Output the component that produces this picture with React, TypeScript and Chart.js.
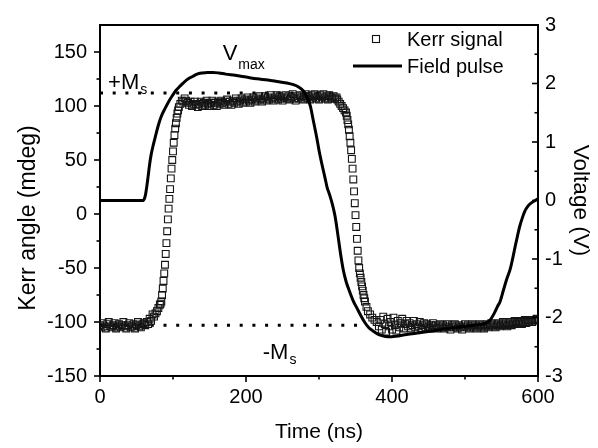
import React, { useEffect, useRef } from 'react';
import { Chart, registerables } from 'chart.js';

Chart.register(...registerables);

// ---------------- data ----------------
const kerrTime = [
  0, 2, 4, 6, 8, 10, 12, 14, 16, 18, 20, 22, 24, 26, 28, 30, 32, 34, 36, 38, 40, 42, 44, 46, 48, 50, 52, 54, 56, 58, 60, 62,
  64, 66, 68, 70, 72, 74, 76, 78, 80, 82, 83,
  84, 85, 86, 87, 88, 89, 90, 91, 92, 93, 94, 95, 96, 97, 98, 99, 100, 101, 102, 103, 104, 105, 106, 107, 108, 110, 112, 114, 116,
  118, 120, 122, 124, 126, 128, 130, 132, 134, 136,
  138, 140, 142, 144, 146, 148, 150, 152, 154, 156,
  158, 160, 162, 164, 166, 168, 170, 172, 174, 176,
  178, 180, 182, 184, 186, 188, 190, 192, 194, 196,
  198, 200, 202, 204, 206, 208, 210, 212, 214, 216,
  218, 220, 222, 224, 226, 228, 230, 232, 234, 236,
  238, 240, 242, 244, 246, 248, 250, 252, 254, 256,
  258, 260, 262, 264, 266, 268, 270, 272, 274, 276,
  278, 280, 282, 284, 286, 288, 290, 292, 294, 296,
  298, 300, 302, 304, 306, 308, 310, 312, 314, 316,
  318, 320, 322, 324,
  325, 327, 329, 331, 333, 335, 337, 338, 339, 340, 341, 342, 343, 344, 345, 346, 347, 348, 349, 350, 351, 352, 353, 354, 355,
  356, 357, 358, 359, 360, 361, 362, 363, 365, 367, 370, 373, 376, 379,
  382, 384, 386, 388, 390, 392, 394, 396, 398, 400,
  402, 404, 406, 408, 410, 412, 414, 416, 418, 420,
  422, 424, 426, 428, 430, 432, 434, 436, 438, 440,
  442, 444, 446, 448, 450, 452, 454, 456, 458, 460,
  462, 464, 466, 468, 470, 472, 474, 476, 478, 480,
  482, 484, 486, 488, 490, 492, 494, 496, 498, 500,
  502, 504, 506, 508, 510, 512, 514, 516, 518, 520,
  522, 524, 526, 528, 530, 532, 534, 536, 538, 540,
  542, 544, 546, 548, 550, 552, 554, 556, 558, 560,
  562, 564, 566, 568, 570, 572, 574, 576, 578, 580,
  582, 584, 586, 588, 590, 592, 594, 596, 598, 600,
];
const kerrAngle = [
  -103, -105, -101, -104, -106, -102, -100, -104, -105, -103, -101, -106, -104, -102, -105, -103, -100, -104, -106, -103, -101, -105, -104, -102, -106, -103, -100, -104, -105, -102, -101, -103,
  -100, -102, -97, -99, -93, -95, -92, -90, -87, -84, -83,
  -81, -75, -69, -62, -55, -47, -37, -27, -16, -5, 5, 14, 23, 33, 42, 50, 58, 66, 73, 79, 84, 89, 93, 96, 99, 102, 105, 104, 107,
  105, 103, 101, 104, 100, 102, 104, 101, 99, 102,
  104, 100, 103, 101, 105, 102, 100, 103, 105, 101,
  103, 100, 104, 102, 105, 103, 101, 104, 106, 102,
  104, 101, 105, 103, 107, 104, 102, 105, 107, 103,
  106, 104, 108, 105, 103, 106, 108, 104, 107, 105,
  109, 106, 104, 107, 109, 105, 108, 106, 110, 107,
  105, 108, 110, 106, 109, 107, 105, 108, 110, 107,
  109, 106, 108, 111, 107, 105, 109, 107, 110, 108,
  106, 109, 111, 107, 109, 106, 110, 108, 111, 107,
  109, 106, 110, 108, 111, 107, 109, 106, 110, 108,
  107, 109, 107, 108,
  106, 104, 102, 100, 98, 96, 94, 91, 87, 83, 78, 72, 66, 59, 51, 42, 32, 21, 10, -1, -12, -23, -34, -43, -50,
  -55, -59, -63, -67, -71, -75, -78, -81, -86, -90, -93, -96, -98, -100,
  -104, -98, -107, -95, -102, -109, -97, -104, -100, -107,
  -96, -103, -108, -99, -105, -101, -97, -106, -102, -99,
  -104, -101, -106, -103, -99, -105, -102, -104, -100, -106,
  -103, -101, -105, -102, -104, -106, -103, -101, -105, -103,
  -106, -104, -102, -105, -103, -106, -104, -102, -105, -107,
  -103, -105, -102, -104, -106, -103, -105, -107, -104, -102,
  -105, -103, -106, -104, -102, -105, -103, -106, -104, -102,
  -105, -103, -106, -104, -102, -105, -103, -101, -104, -102,
  -105, -103, -101, -104, -102, -100, -103, -101, -104, -102,
  -100, -103, -101, -99, -102, -100, -101, -99, -102, -100,
  -98, -101, -99, -100, -98, -100, -98, -99, -97, -98,
];

const pulseTime = [
  0, 59, 62, 64, 66, 68, 70, 73, 76, 80, 84, 89, 94, 99, 104, 110, 115, 121, 127, 133, 140, 147, 155, 163, 172, 185, 200, 215,
  230, 245, 256, 265, 272, 278, 283, 288, 292, 297, 300, 304, 308, 311, 315, 318, 322, 326, 330, 333, 337, 342, 347, 352, 357,
  363, 368, 374, 380, 386, 395, 405, 420, 438, 455, 475, 495, 515, 528, 534, 540, 545, 548, 552, 557, 562, 566, 569, 572, 575,
  579, 582, 586, 590, 595, 600,
];
const pulseVoltage = [
  0, 0, 0.08, 0.23, 0.42, 0.62, 0.78, 0.95, 1.1, 1.29, 1.44, 1.57, 1.69, 1.79, 1.88, 1.96, 2.02, 2.08, 2.12, 2.16, 2.18, 2.19, 2.19, 2.18, 2.16, 2.14, 2.11, 2.08,
  2.06, 2.03, 2.01, 1.98, 1.94, 1.88, 1.78, 1.62, 1.38, 1.07, 0.86, 0.62, 0.4, 0.23, 0.08, -0.05, -0.27, -0.6, -0.95, -1.17, -1.38, -1.56, -1.72, -1.84, -1.96,
  -2.09, -2.17, -2.23, -2.28, -2.31, -2.33, -2.32, -2.29, -2.26, -2.23, -2.19, -2.16, -2.13, -2.1, -2.05, -1.93, -1.8, -1.73, -1.56, -1.35, -1.17, -0.95, -0.77, -0.6, -0.44,
  -0.28, -0.18, -0.1, -0.05, -0.01, 0.03,
];

const msPlus = 112;
const msMinus = -103;
const msPlusSpan = [0, 320];
const msMinusSpan = [0, 360];

const xMajorTicks = [0, 200, 400, 600];
const xMinorTicks = [100, 300, 500];
const leftMajorTicks = [-150, -100, -50, 0, 50, 100, 150];
const leftMinorTicks = [-125, -75, -25, 25, 75, 125];
const rightMajorTicks = [-3, -2, -1, 0, 1, 2, 3];
const rightMinorTicks = [-2.5, -1.5, -0.5, 0.5, 1.5, 2.5];

// annotation labels: text, subscript, anchor time (ns), anchor Kerr angle (mdeg)
const noteText = ['+M', 'V', '-M'];
const noteSub = ['s', 'max', 's'];
const noteTime = [11, 168, 223];
const noteAngle = [116, 143, -134];

const leftTitle = 'Kerr angle (mdeg)';

const FONT = "'Liberation Sans', Arial, Helvetica, sans-serif";

const decorPlugin = {
  id: 'decor',
  afterDraw(chart: any) {
    const { ctx, chartArea: a, scales } = chart;
    const sx = scales.x;
    const sl = scales.yL;
    const sr = scales.yR;
    ctx.save();
    ctx.strokeStyle = '#000';
    ctx.lineWidth = 2;
    ctx.beginPath();
    ctx.moveTo(a.left - 1, a.top);
    ctx.lineTo(a.right + 1, a.top);
    ctx.stroke();

    ctx.lineWidth = 1.6;
    const seg = (x1: number, y1: number, x2: number, y2: number) => {
      ctx.beginPath();
      ctx.moveTo(x1, y1);
      ctx.lineTo(x2, y2);
      ctx.stroke();
    };
    xMajorTicks.forEach((v) => { const p = sx.getPixelForValue(v); seg(p, a.bottom, p, a.bottom + 6); });
    xMinorTicks.forEach((v) => { const p = sx.getPixelForValue(v); seg(p, a.bottom, p, a.bottom + 3.5); });
    leftMajorTicks.forEach((v) => { const p = sl.getPixelForValue(v); seg(a.left, p, a.left - 6, p); });
    leftMinorTicks.forEach((v) => { const p = sl.getPixelForValue(v); seg(a.left, p, a.left - 3.5, p); });
    rightMajorTicks.forEach((v) => { const p = sr.getPixelForValue(v); seg(a.right, p, a.right - 6, p); });
    rightMinorTicks.forEach((v) => { const p = sr.getPixelForValue(v); seg(a.right, p, a.right - 3.5, p); });

    // left axis title
    ctx.save();
    ctx.fillStyle = '#000';
    ctx.font = `23px ${FONT}`;
    ctx.textAlign = 'center';
    ctx.textBaseline = 'middle';
    ctx.translate(29, 218);
    ctx.rotate(-Math.PI / 2);
    ctx.fillText(leftTitle, 0, 0);
    ctx.restore();

    // legend
    const ds = chart.data.datasets;
    ctx.fillStyle = '#000';
    ctx.textBaseline = 'middle';
    ctx.textAlign = 'left';
    ctx.font = `20px ${FONT}`;
    ctx.lineWidth = 1.1;
    ctx.strokeStyle = '#111';
    ctx.strokeRect(372.5, 35.5, 7, 7);
    ctx.fillText(ds[0].label, 407, 40);
    ctx.lineWidth = 3;
    ctx.strokeStyle = '#000';
    seg(353, 66, 402, 66);
    ctx.fillText(ds[1].label, 407, 67);

    // annotations
    ctx.textBaseline = 'alphabetic';
    noteText.forEach((t, i) => {
      const px = sx.getPixelForValue(noteTime[i]);
      const py = sl.getPixelForValue(noteAngle[i]);
      ctx.font = `22px ${FONT}`;
      ctx.fillText(t, px, py);
      const w = ctx.measureText(t).width;
      ctx.font = `14px ${FONT}`;
      ctx.fillText(noteSub[i], px + w + 1, py + (noteSub[i] === 's' ? 5 : 9));
    });
    ctx.restore();
  },
};

export default function App() {
  const ref = useRef<HTMLCanvasElement>(null);
  useEffect(() => {
    if (!ref.current) return;
    const kerr = kerrTime.map((t, i) => ({ x: t, y: kerrAngle[i] }));
    const pulse = pulseTime.map((t, i) => ({ x: t, y: pulseVoltage[i] }));
    const axisFont = { family: FONT, size: 20 };
    const chart = new Chart(ref.current, {
      type: 'line',
      data: {
        datasets: [
          {
            label: 'Kerr signal',
            data: kerr,
            yAxisID: 'yL',
            showLine: false,
            pointStyle: 'rect',
            pointRadius: 4.8,
            pointBorderWidth: 1.1,
            pointBorderColor: '#151515',
            pointBackgroundColor: 'rgba(255,255,255,0)',
            borderColor: '#151515',
            order: 2,
          },
          {
            label: 'Field pulse',
            data: pulse,
            yAxisID: 'yR',
            borderColor: '#000',
            borderWidth: 3,
            pointRadius: 0,
            cubicInterpolationMode: 'monotone',
            order: 1,
          },
          {
            label: '+Ms',
            data: msPlusSpan.map((t) => ({ x: t, y: msPlus })),
            yAxisID: 'yL',
            borderColor: '#000',
            borderWidth: 3,
            borderDash: [3, 9.7],
            pointRadius: 0,
            order: 3,
          },
          {
            label: '-Ms',
            data: msMinusSpan.map((t) => ({ x: t, y: msMinus })),
            yAxisID: 'yL',
            borderColor: '#000',
            borderWidth: 3,
            borderDash: [3, 9.7],
            pointRadius: 0,
            order: 3,
          },
        ],
      },
      options: {
        responsive: false,
        animation: false,
        devicePixelRatio: 1,
        layout: { padding: { top: 18, left: 0, right: 0, bottom: 0 } },
        plugins: { legend: { display: false }, tooltip: { enabled: false } },
        scales: {
          x: {
            type: 'linear',
            position: 'bottom',
            min: 0,
            max: 600,
            afterBuildTicks: (s: any) => { s.ticks = xMajorTicks.map((v) => ({ value: v })); },
            afterFit: (s: any) => { s.height = 72; },
            grid: { display: false, drawTicks: false },
            border: { display: true, color: '#000', width: 2 },
            ticks: { color: '#000', font: axisFont, padding: 9, maxRotation: 0, autoSkip: false },
            title: { display: true, text: 'Time (ns)', color: '#000', font: { family: FONT, size: 21 }, padding: { top: 0, bottom: 3.4 } },
          },
          yL: {
            type: 'linear',
            position: 'left',
            min: -150,
            max: 175,
            afterBuildTicks: (s: any) => { s.ticks = leftMajorTicks.map((v) => ({ value: v })); },
            afterFit: (s: any) => { s.width = 100; },
            grid: { display: false, drawTicks: false },
            border: { display: true, color: '#000', width: 2 },
            ticks: { color: '#000', font: axisFont, padding: 13, autoSkip: false },
            title: { display: false },
          },
          yR: {
            type: 'linear',
            position: 'right',
            min: -3,
            max: 3,
            afterBuildTicks: (s: any) => { s.ticks = rightMajorTicks.map((v) => ({ value: v })); },
            afterFit: (s: any) => { s.width = 60; },
            grid: { display: false, drawTicks: false },
            border: { display: true, color: '#000', width: 2 },
            ticks: { color: '#000', font: axisFont, padding: 7, autoSkip: false },
            title: { display: true, text: 'Voltage (V)', color: '#000', font: { family: FONT, size: 22.5 }, padding: { top: 4.5, bottom: 0 } },
          },
        },
      },
      plugins: [decorPlugin],
    } as any);
    return () => chart.destroy();
  }, []);
  return (
    <div style={{ position: 'absolute', left: 0, top: 0, width: 598, height: 448, background: '#fff' }}>
      <canvas ref={ref} width={598} height={448} />
    </div>
  );
}
